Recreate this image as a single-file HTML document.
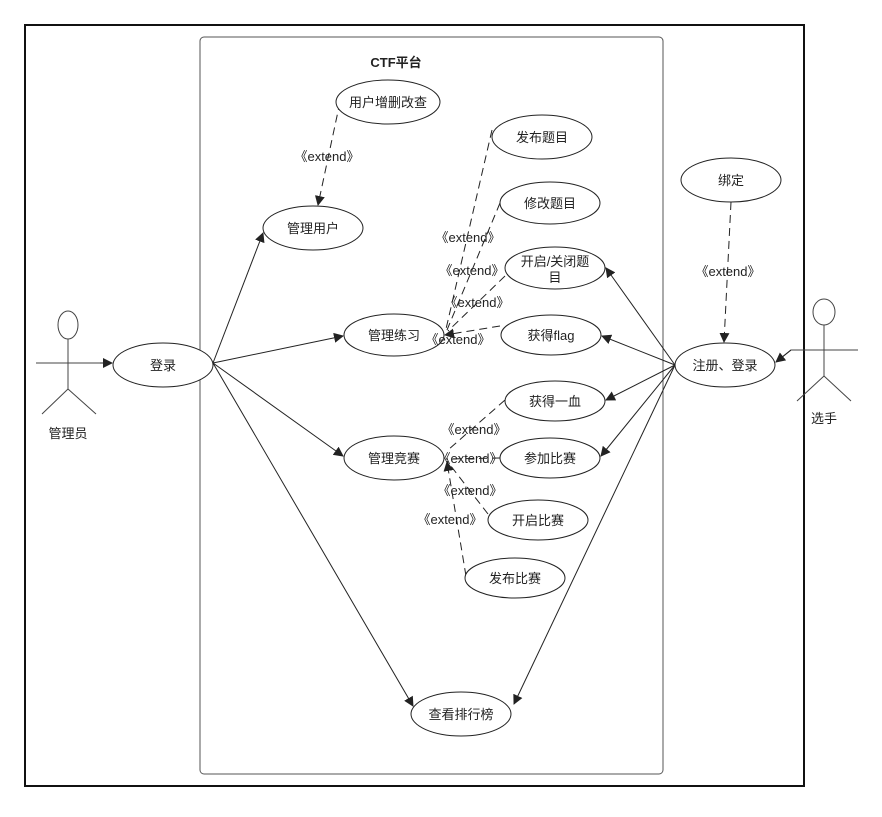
<!DOCTYPE html>
<html><head><meta charset="utf-8"><style>
html,body{margin:0;padding:0;background:#fff;}
text{font-family:"Liberation Sans","Noto Sans CJK SC",sans-serif;font-size:13px;fill:#222;}
</style></head><body>
<svg width="882" height="812" viewBox="0 0 882 812" xmlns="http://www.w3.org/2000/svg">
<defs>
<marker id="a" viewBox="0 0 10 10" refX="9" refY="5" markerWidth="10" markerHeight="10" orient="auto" markerUnits="userSpaceOnUse"><path d="M0,0 L10,5 L0,10 z" fill="#222"/></marker>
</defs>
<rect x="25" y="25" width="779" height="761" fill="none" stroke="#111" stroke-width="2"/>
<rect x="200" y="37" width="463" height="737" rx="4" fill="none" stroke="#555" stroke-width="1"/>
<text x="396" y="67" text-anchor="middle" font-weight="bold">CTF平台</text>

<g stroke="#222" stroke-width="1" fill="none">
<line x1="36" y1="363" x2="112" y2="363" marker-end="url(#a)"/>
<polyline points="858,350 791,350 776,362" marker-end="none"/>
<line x1="791" y1="350" x2="776" y2="362" marker-end="url(#a)"/>
<line x1="213" y1="363" x2="263" y2="233" marker-end="url(#a)"/>
<line x1="213" y1="363" x2="343" y2="336" marker-end="url(#a)"/>
<line x1="213" y1="363" x2="343" y2="456" marker-end="url(#a)"/>
<line x1="213" y1="363" x2="413" y2="706" marker-end="url(#a)"/>
<line x1="675" y1="365" x2="606" y2="268" marker-end="url(#a)"/>
<line x1="675" y1="365" x2="602" y2="336" marker-end="url(#a)"/>
<line x1="675" y1="365" x2="606" y2="400" marker-end="url(#a)"/>
<line x1="675" y1="365" x2="601" y2="456" marker-end="url(#a)"/>
<line x1="675" y1="365" x2="514" y2="704" marker-end="url(#a)"/>
</g>
<g stroke="#222" stroke-width="1" fill="none" stroke-dasharray="8,5">
<line x1="340" y1="102" x2="318" y2="205" marker-end="url(#a)"/>
<line x1="731" y1="202" x2="724" y2="342" marker-end="url(#a)"/>
<line x1="492" y1="130" x2="446" y2="329"/>
<line x1="500" y1="203" x2="447" y2="330"/>
<line x1="505" y1="276" x2="448" y2="331"/>
<line x1="500" y1="326" x2="445" y2="335" marker-end="url(#a)"/>
<line x1="505" y1="400" x2="448" y2="450"/>
<line x1="500" y1="458" x2="446" y2="459"/>
<line x1="488" y1="514" x2="447" y2="461"/>
<line x1="466" y1="576" x2="447" y2="462" marker-end="url(#a)"/>
</g>
<g fill="#fff" stroke="#222" stroke-width="1">
<ellipse cx="388" cy="102" rx="52" ry="22"/>
<ellipse cx="542" cy="137" rx="50" ry="22"/>
<ellipse cx="550" cy="203" rx="50" ry="21"/>
<ellipse cx="555" cy="268" rx="50" ry="21"/>
<ellipse cx="551" cy="335" rx="50" ry="20"/>
<ellipse cx="313" cy="228" rx="50" ry="22"/>
<ellipse cx="394" cy="335" rx="50" ry="21"/>
<ellipse cx="163" cy="365" rx="50" ry="22"/>
<ellipse cx="731" cy="180" rx="50" ry="22"/>
<ellipse cx="725" cy="365" rx="50" ry="22"/>
<ellipse cx="555" cy="401" rx="50" ry="20"/>
<ellipse cx="394" cy="458" rx="50" ry="22"/>
<ellipse cx="550" cy="458" rx="50" ry="20"/>
<ellipse cx="538" cy="520" rx="50" ry="20"/>
<ellipse cx="515" cy="578" rx="50" ry="20"/>
<ellipse cx="461" cy="714" rx="50" ry="22"/>
</g>
<g stroke="#444" stroke-width="1" fill="none">
<ellipse cx="68" cy="325" rx="10" ry="14" fill="#fff"/>
<line x1="68" y1="339" x2="68" y2="389"/>
<line x1="36" y1="363" x2="100" y2="363"/>
<line x1="68" y1="389" x2="42" y2="414"/><line x1="68" y1="389" x2="96" y2="414"/>
<ellipse cx="824" cy="312" rx="11" ry="13" fill="#fff"/>
<line x1="824" y1="325" x2="824" y2="376"/>
<line x1="791" y1="350" x2="858" y2="350"/>
<line x1="824" y1="376" x2="797" y2="401"/><line x1="824" y1="376" x2="851" y2="401"/>
</g>
<g text-anchor="middle">
<text x="68" y="438">管理员</text>
<text x="824" y="423">选手</text>
<text x="388" y="107">用户增删改查</text>
<text x="542" y="142">发布题目</text>
<text x="550" y="208">修改题目</text>
<text x="555" y="266">开启/关闭题</text>
<text x="555" y="282">目</text>
<text x="551" y="340">获得flag</text>
<text x="313" y="233">管理用户</text>
<text x="394" y="340">管理练习</text>
<text x="163" y="370">登录</text>
<text x="731" y="185">绑定</text>
<text x="725" y="370">注册、登录</text>
<text x="555" y="406">获得一血</text>
<text x="394" y="463">管理竞赛</text>
<text x="550" y="463">参加比赛</text>
<text x="538" y="525">开启比赛</text>
<text x="515" y="583">发布比赛</text>
<text x="461" y="719">查看排行榜</text>
<text x="327" y="161">《extend》</text>
<text x="728" y="276">《extend》</text>
<text x="468" y="242">《extend》</text>
<text x="472" y="275">《extend》</text>
<text x="477" y="307">《extend》</text>
<text x="458" y="344">《extend》</text>
<text x="474" y="434">《extend》</text>
<text x="470" y="463">《extend》</text>
<text x="470" y="495">《extend》</text>
<text x="450" y="524">《extend》</text>
</g>
</svg>
</body></html>
